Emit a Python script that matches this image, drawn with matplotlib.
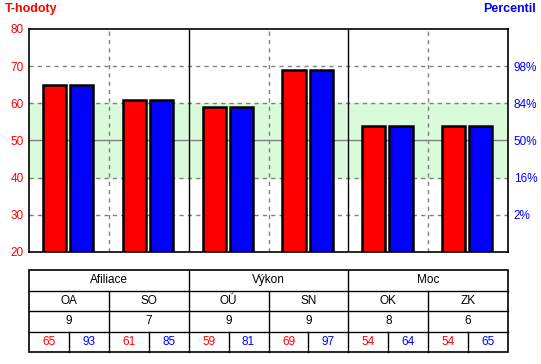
import matplotlib.pyplot as plt
from matplotlib.patches import Rectangle

plt.rcParams['font.family'] = ['Liberation Sans', 'DejaVu Sans']

# data
scales = ["Afiliace", "Výkon", "Moc"]
subscales = ["OA", "SO", "OÚ", "SN", "OK", "ZK"]
stens = [9, 7, 9, 9, 8, 6]
t_scores = [65, 61, 59, 69, 54, 54]
percentiles = [93, 85, 81, 97, 64, 65]
# blue bars drawn at the T-value that matches the percentile
percentile_bars = [65, 61, 59, 69, 54, 54]
pct_tick_t = [30, 40, 50, 60, 70]
pct_tick_labels = ["2%", "16%", "50%", "84%", "98%"]

RED = "#ff0000"
BLUE = "#0000ff"
W, H = 541, 364

fig = plt.figure(figsize=(W / 100, H / 100), dpi=100)

def px_axes(x0, y0, x1, y1):
    return fig.add_axes([x0 / W, 1 - y1 / H, (x1 - x0) / W, (y1 - y0) / H])

ax = px_axes(29, 29, 508, 252)
n = len(subscales)
ax.set_xlim(0, n)
ax.set_ylim(20, 80)

# normal band and grid
ax.axhspan(40, 60, color="#d9fbd9", zorder=0)
for y in [30, 40, 60, 70]:
    ax.axhline(y, color="#808080", ls=(0, (3, 3)), lw=1, zorder=1)
ax.axhline(50, color="#808080", lw=1, zorder=1)
for x in [1, 3, 5]:
    ax.axvline(x, color="#808080", ls=(0, (3, 3)), lw=1, zorder=1)
for x in [2, 4]:
    ax.axvline(x, color="black", lw=1, zorder=1)

xs = list(range(n))
ax.bar([x + 0.32 for x in xs], [t - 20 for t in t_scores], width=0.29, bottom=20,
       color=RED, edgecolor="black", lw=1.8, zorder=3)
ax.bar([x + 0.66 for x in xs], [t - 20 for t in percentile_bars], width=0.29, bottom=20,
       color=BLUE, edgecolor="black", lw=1.8, zorder=3)

ax.set_xticks([])
ax.set_yticks(range(20, 81, 10))
ax.tick_params(axis="y", length=0, pad=4, labelsize=8.5, labelcolor=RED)
for s in ax.spines.values():
    s.set_linewidth(1.2)

ax2 = ax.twinx()
ax2.set_ylim(20, 80)
ax2.set_yticks(pct_tick_t)
ax2.set_yticklabels(pct_tick_labels)
ax2.tick_params(axis="y", length=0, pad=4, labelsize=8.5, labelcolor=BLUE)
for s in ax2.spines.values():
    s.set_visible(False)

fig.text(5 / W, 1 - 9 / H, "T-hodoty", color=RED, fontsize=9, fontweight="bold",
         ha="left", va="center")
fig.text(536 / W, 1 - 9 / H, "Percentil", color=BLUE, fontsize=9, fontweight="bold",
         ha="right", va="center")

# table below
tb = px_axes(29, 270, 508, 352)
tb.set_xlim(0, 12)
tb.set_ylim(0, 4)
tb.axis("off")
tb.add_patch(Rectangle((0, 0), 12, 4, fill=False, lw=1.2, ec="black", clip_on=False))
for y in [1, 2, 3]:
    tb.plot([0, 12], [y, y], color="black", lw=1, clip_on=False)
for x in [4, 8]:
    tb.plot([x, x], [0, 4], color="black", lw=1, clip_on=False)
for x in [2, 6, 10]:
    tb.plot([x, x], [0, 3], color="black", lw=1, clip_on=False)
for x in [1, 3, 5, 7, 9, 11]:
    tb.plot([x, x], [0, 1], color="black", lw=1, clip_on=False)

fs = 8.5
for i, s in enumerate(scales):
    tb.text(4 * i + 2, 3.5, s, ha="center", va="center", fontsize=fs)
for i in range(n):
    tb.text(2 * i + 1, 2.5, subscales[i], ha="center", va="center", fontsize=fs)
    tb.text(2 * i + 1, 1.5, str(stens[i]), ha="center", va="center", fontsize=fs)
    tb.text(2 * i + 0.5, 0.5, str(t_scores[i]), ha="center", va="center", fontsize=fs, color=RED)
    tb.text(2 * i + 1.5, 0.5, str(percentiles[i]), ha="center", va="center", fontsize=fs, color=BLUE)

fig.savefig("out.png", dpi=100)
